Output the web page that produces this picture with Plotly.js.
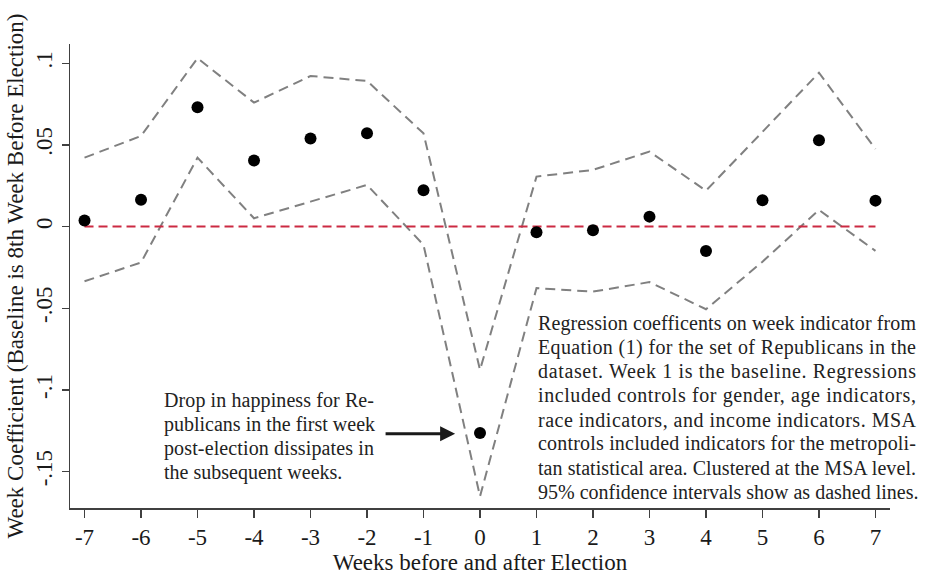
<!DOCTYPE html>
<html>
<head>
<meta charset="utf-8">
<script src="https://cdn.plot.ly/plotly-3.0.1.min.js"></script>
<style>html,body{margin:0;padding:0;background:#fff;}#chart{width:928px;height:575px;}</style>
</head>
<body>
<div id="chart"></div>
<script>
// Weeks relative to election
var weeks = [-7, -6, -5, -4, -3, -2, -1, 0, 1, 2, 3, 4, 5, 6, 7];
// Point estimates
var coef = [0.0037, 0.0165, 0.0731, 0.0404, 0.0539, 0.0571, 0.0223, -0.1264, -0.0034, -0.0022, 0.0061, -0.0149, 0.0162, 0.0529, 0.0159];
// 95% CI bounds
var ciUpper = [0.0422, 0.0555, 0.1031, 0.0759, 0.0922, 0.0892, 0.0571, -0.0877, 0.0306, 0.0347, 0.0459, 0.0220, 0.058, 0.0942, 0.0475];
var ciLower = [-0.0335, -0.0220, 0.0422, 0.0051, 0.0153, 0.0255, -0.0112, -0.1652, -0.0377, -0.0398, -0.0340, -0.0506, -0.0215, 0.0102, -0.0149];
// Baseline reference line
var baselineX = [-7, 7];
var baselineY = [0, 0];
// Tick labels
var xTickVals = [-7, -6, -5, -4, -3, -2, -1, 0, 1, 2, 3, 4, 5, 6, 7];
var xTickText = ["-7", "-6", "-5", "-4", "-3", "-2", "-1", "0", "1", "2", "3", "4", "5", "6", "7"];
var yTickVals = [0.1, 0.05, 0, -0.05, -0.1, -0.15];
var yTickText = [".1", ".05", "0", "-.05", "-.1", "-.15"];

// Note texts, one entry per printed line
var leftNoteLines = [
  "Drop in happiness for Re-",
  "publicans in the first week",
  "post-election dissipates in",
  "the subsequent weeks."
];
var rightNoteLines = [
  "Regression coefficents on week indicator from",
  "Equation (1) for the set of Republicans in the",
  "dataset. Week 1 is the baseline. Regressions",
  "included controls for gender, age indicators,",
  "race indicators, and income indicators. MSA",
  "controls included indicators for the metropoli-",
  "tan statistical area. Clustered at the MSA level.",
  "95% confidence intervals show as dashed lines."
];
// Arrow (tail -> head) in data units
var arrowTail = [-1.68, -0.1269];
var arrowHead = [-0.44, -0.1269];

var font = "'Liberation Serif', 'DejaVu Serif', serif";
var txtColor = '#1a1a1a';

var traces = [
  {x: weeks, y: ciUpper, mode: 'lines', line: {color: '#808080', width: 2, dash: '10px,6px'}, hoverinfo: 'skip'},
  {x: weeks, y: ciLower, mode: 'lines', line: {color: '#808080', width: 2, dash: '10px,6px'}, hoverinfo: 'skip'},
  {x: baselineX, y: baselineY, mode: 'lines', line: {color: '#cc2a42', width: 2, dash: '9px,5px'}, hoverinfo: 'skip'},
  {x: weeks, y: coef, mode: 'markers', marker: {color: '#000', size: 12}}
];

// Layout geometry (pixels)
var M = {l: 70, r: 38, t: 44, b: 67};
var plotW = 928 - M.l - M.r, plotH = 575 - M.t - M.b;
function px2paperX(px) { return (px - M.l) / plotW; }
function px2paperY(py) { return (575 - M.b - py) / plotH; }

var annotations = [];
var justify = []; // [annotation index, target width]
function addBlock(lines, leftPx, firstY, step, rightPx) {
  lines.forEach(function (ln, i) {
    annotations.push({
      xref: 'paper', yref: 'paper', x: px2paperX(leftPx), y: px2paperY(firstY + i * step),
      xanchor: 'left', yanchor: 'middle', align: 'left', text: ln, showarrow: false,
      font: {family: font, size: 20, color: '#222'}
    });
    if (i < lines.length - 1) justify.push([annotations.length - 1, rightPx - leftPx]);
  });
}
addBlock(leftNoteLines, 162, 400.5, 24.1, 372);
addBlock(rightNoteLines, 536, 323.8, 24.0, 914);

annotations.push({xref: 'x', yref: 'y', x: arrowHead[0], y: arrowHead[1], axref: 'x', ayref: 'y', ax: arrowTail[0], ay: arrowTail[1],
  text: '', font: {size: 1}, borderpad: 0, showarrow: true, arrowhead: 2, arrowsize: 1, arrowwidth: 3, arrowcolor: '#1a1a1a', standoff: 0, startstandoff: 0});

var layout = {
  width: 928, height: 575,
  margin: M,
  paper_bgcolor: '#fff', plot_bgcolor: '#fff',
  showlegend: false,
  font: {family: font, size: 23, color: txtColor},
  xaxis: {
    range: [-7.257, 7.257], tickvals: xTickVals, ticktext: xTickText,
    showgrid: false, zeroline: false, showline: true, linecolor: '#404040', linewidth: 1.5,
    ticks: 'outside', ticklen: 8, tickwidth: 1.5, tickcolor: '#404040',
    tickfont: {family: font, size: 23, color: txtColor},
    title: {text: 'Weeks before and after Election', font: {family: font, size: 23, color: txtColor}, standoff: 0}
  },
  yaxis: {
    range: [-0.1723, 0.1118], tickvals: yTickVals, ticktext: yTickText, tickangle: -90,
    showgrid: false, zeroline: false, showline: true, linecolor: '#404040', linewidth: 1.5,
    ticks: 'outside', ticklen: 7, tickwidth: 1.5, tickcolor: '#404040',
    tickfont: {family: font, size: 23, color: txtColor},
    title: {text: 'Week Coefficient (Baseline is 8th Week Before Election)', font: {family: font, size: 23, color: txtColor}, standoff: 2}
  },
  annotations: annotations
};

Plotly.newPlot('chart', traces, layout, {displayModeBar: false, staticPlot: true}).then(function (gd) {
  // justify note lines (all but the last line of each paragraph)
  justify.forEach(function (j) {
    var t = gd.querySelector('.annotation[data-index="' + j[0] + '"] text.annotation-text');
    if (!t) return;
    var w = t.getComputedTextLength();
    if (w < j[1] && w > j[1] * 0.85) {
      t.setAttribute('textLength', j[1]);
      t.setAttribute('lengthAdjust', 'spacing');
    }
  });
});
</script>
</body>
</html>
